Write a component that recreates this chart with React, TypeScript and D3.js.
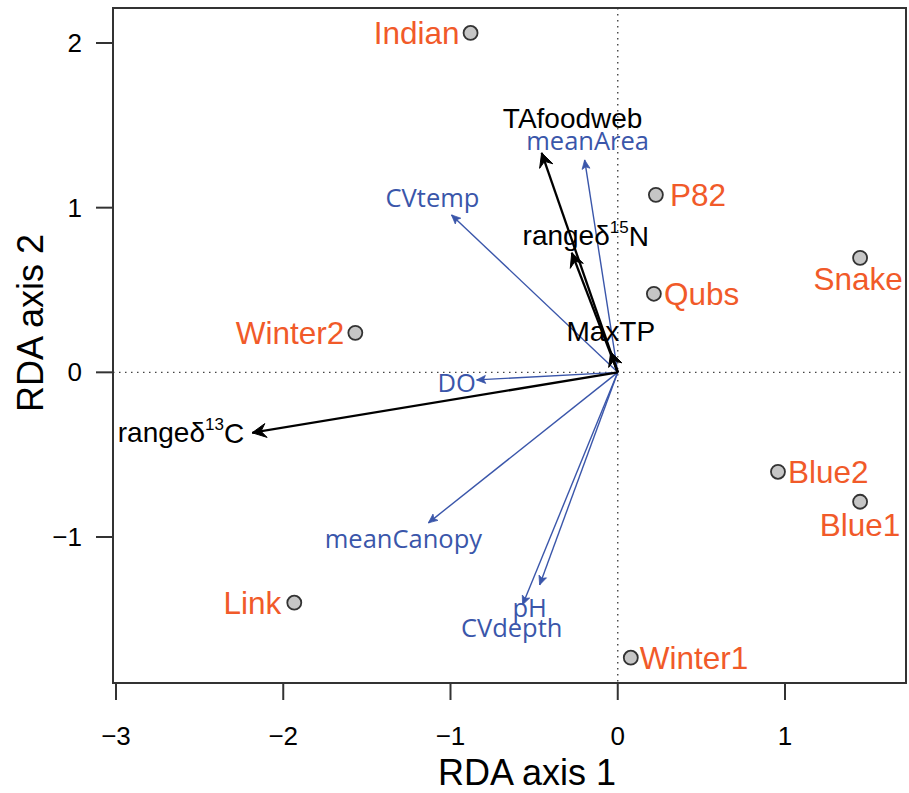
import React from "react";
import * as d3 from "d3";

// ---- data ----
const siteNames = ["Indian", "P82", "Snake", "Qubs", "Winter2", "Blue2", "Blue1", "Link", "Winter1"];
const siteX = [-0.88, 0.228, 1.449, 0.216, -1.569, 0.958, 1.449, -1.934, 0.078];
const siteY = [2.061, 1.078, 0.695, 0.477, 0.24, -0.604, -0.786, -1.399, -1.733];

const responseNames = ["TAfoodweb", "range15N", "MaxTP", "range13C"];
const responseX = [-0.455, -0.275, -0.042, -2.186];
const responseY = [1.333, 0.726, 0.124, -0.367];

const envNames = ["meanArea", "CVtemp", "DO", "meanCanopy", "pH", "CVdepth"];
const envX = [-0.198, -0.994, -0.844, -1.132, -0.569, -0.467];
const envY = [1.29, 0.956, -0.046, -0.914, -1.412, -1.291];

const xTicks = [-3, -2, -1, 0, 1];
const yTicks = [-1, 0, 1, 2];

// ---- layout / style ----
const W = 909;
const H = 793;
const box = { left: 113, right: 906, top: 8, bottom: 683 };
const ORANGE = "#F15A29";
const BLUE = "#3A56AA";
const SANS = "'Liberation Sans', Arial, sans-serif";
const HUMAN = "'Open Sans', 'Noto Sans', sans-serif";

// label placement (pixel offsets from point / arrow tip)
const siteLabelLayout: Record<string, { dx: number; dy: number; anchor: string }> = {
  Indian: { dx: -11, dy: 0, anchor: "end" },
  P82: { dx: 14, dy: 0, anchor: "start" },
  Snake: { dx: -2, dy: 21, anchor: "middle" },
  Qubs: { dx: 10, dy: 0, anchor: "start" },
  Winter2: { dx: -11, dy: 0, anchor: "end" },
  Blue2: { dx: 10, dy: 0, anchor: "start" },
  Blue1: { dx: 0, dy: 23, anchor: "middle" },
  Link: { dx: -13, dy: 0, anchor: "end" },
  Winter1: { dx: 9, dy: 0, anchor: "start" },
};
const respLabelLayout: Record<string, { dx: number; dy: number; anchor: string }> = {
  TAfoodweb: { dx: 31, dy: -34, anchor: "middle" },
  range15N: { dx: 14, dy: -17, anchor: "middle" },
  MaxTP: { dx: 0, dy: -20, anchor: "middle" },
  range13C: { dx: -8, dy: 0, anchor: "end" },
};
const envLabelLayout: Record<string, { dx: number; dy: number; anchor: string }> = {
  meanArea: { dx: 3, dy: -20, anchor: "middle" },
  CVtemp: { dx: -19, dy: -18, anchor: "middle" },
  DO: { dx: -20, dy: 2, anchor: "middle" },
  meanCanopy: { dx: -25, dy: 15, anchor: "middle" },
  pH: { dx: 7, dy: 2, anchor: "middle" },
  CVdepth: { dx: -28, dy: 42, anchor: "middle" },
};

const x = d3.scaleLinear().domain([-3, 1]).range([116, 785]);
const y = d3.scaleLinear().domain([-1, 2]).range([537, 43]);

function headPath(x0: number, y0: number, x1: number, y1: number, len: number, half: number, notch: number) {
  const ang = Math.atan2(y1 - y0, x1 - x0);
  const c = Math.cos(ang), s = Math.sin(ang);
  const bx = x1 - len * c, by = y1 - len * s;
  const nx = x1 - (len - notch) * c, ny = y1 - (len - notch) * s;
  const p1 = [bx - half * s, by + half * c];
  const p2 = [bx + half * s, by - half * c];
  return `M${x1},${y1}L${p1[0]},${p1[1]}L${nx},${ny}L${p2[0]},${p2[1]}Z`;
}

function RespLabel({ name }: { name: string }) {
  if (name === "range15N") return <>range&#948;<tspan fontSize="17" dy="-9">15</tspan><tspan dy="9">N</tspan></>;
  if (name === "range13C") return <>range&#948;<tspan fontSize="17" dy="-9">13</tspan><tspan dy="9">C</tspan></>;
  return <>{name}</>;
}

export default function App() {
  const x0 = x(0), y0 = y(0);
  return (
    <div style={{ position: "absolute", left: 0, top: 0 }}>
      <svg width={W} height={H} style={{ display: "block", background: "#fff" }}>
        {/* zero lines */}
        <line x1={box.left} x2={box.right} y1={y0} y2={y0} stroke="#444" strokeWidth={1.4} strokeDasharray="1.5 4.5" />
        <line x1={x0} x2={x0} y1={box.top} y2={box.bottom} stroke="#444" strokeWidth={1.4} strokeDasharray="1.5 4.5" />

        {/* env arrows (blue) */}
        {envNames.map((n, i) => {
          const tx = x(envX[i]), ty = y(envY[i]);
          const L = envLabelLayout[n];
          return (
            <g key={n}>
              <line x1={x0} y1={y0} x2={tx} y2={ty} stroke={BLUE} strokeWidth={1.4} />
              <path d={headPath(x0, y0, tx, ty, 9, 4, 2)} fill={BLUE} stroke={BLUE} strokeWidth={0.8} />
              <text x={tx + L.dx} y={ty + L.dy} textAnchor={L.anchor as any} dominantBaseline="central"
                fontFamily={HUMAN} fontSize={25.5} fill={BLUE}>{n}</text>
            </g>
          );
        })}

        {/* response arrows (black) */}
        {responseNames.map((n, i) => {
          const tx = x(responseX[i]), ty = y(responseY[i]);
          const L = respLabelLayout[n];
          return (
            <g key={n}>
              <line x1={x0} y1={y0} x2={tx} y2={ty} stroke="#000" strokeWidth={2.3} />
              <path d={headPath(x0, y0, tx, ty, 14, 7, 5)} fill="#000" stroke="#000" strokeWidth={1} strokeLinejoin="round" />
              <text x={tx + L.dx} y={ty + L.dy} textAnchor={L.anchor as any} dominantBaseline="central"
                fontFamily={SANS} fontSize={28} fill="#000"><RespLabel name={n} /></text>
            </g>
          );
        })}

        {/* sites */}
        {siteNames.map((n, i) => {
          const px = x(siteX[i]), py = y(siteY[i]);
          const L = siteLabelLayout[n];
          return (
            <g key={n}>
              <circle cx={px} cy={py} r={7} fill="#C6C6C6" stroke="#333" strokeWidth={1.8} />
              <text x={px + L.dx} y={py + L.dy} textAnchor={L.anchor as any} dominantBaseline="central"
                fontFamily={SANS} fontSize={31.5} fill={ORANGE}>{n}</text>
            </g>
          );
        })}

        {/* box */}
        <rect x={box.left} y={box.top} width={box.right - box.left} height={box.bottom - box.top}
          fill="none" stroke="#333" strokeWidth={2} />

        {/* x axis */}
        {xTicks.map((t) => (
          <g key={"xt" + t}>
            <line x1={x(t)} x2={x(t)} y1={box.bottom} y2={box.bottom + 17} stroke="#333" strokeWidth={2} />
            <text x={x(t)} y={745} textAnchor="middle" fontFamily={SANS} fontSize={26} fill="#000">
              {t < 0 ? "\u2212" + Math.abs(t) : String(t)}
            </text>
          </g>
        ))}
        {/* y axis */}
        {yTicks.map((t) => (
          <g key={"yt" + t}>
            <line x1={box.left - 17} x2={box.left} y1={y(t)} y2={y(t)} stroke="#333" strokeWidth={2} />
            <text x={82} y={y(t)} textAnchor="end" dominantBaseline="central" fontFamily={SANS} fontSize={26} fill="#000">
              {t < 0 ? "\u2212" + Math.abs(t) : String(t)}
            </text>
          </g>
        ))}

        <text x={527} y={785} textAnchor="middle" fontFamily={SANS} fontSize={36} fill="#000">RDA axis 1</text>
        <text transform={`translate(43,323) rotate(-90)`} textAnchor="middle" fontFamily={SANS} fontSize={36} fill="#000">RDA axis 2</text>
      </svg>
    </div>
  );
}
